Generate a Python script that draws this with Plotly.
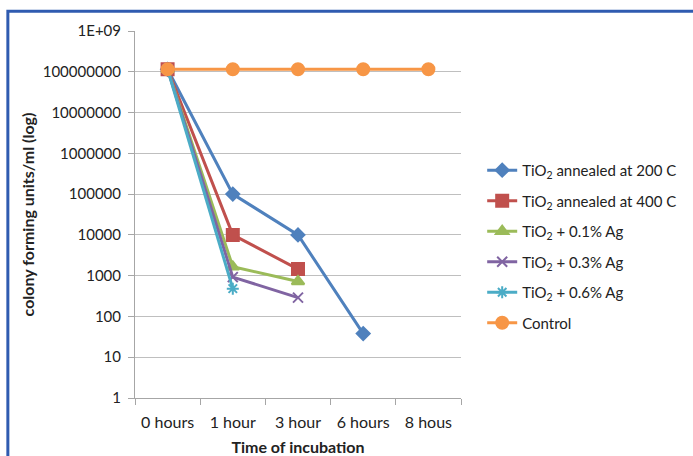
import plotly.graph_objects as go

categories = ["0 hours", "1 hour", "3 hour", "6 hours", "8 hous"]

tio2_200 = [1.15e8, 1.0e5, 1.0e4, 38]
tio2_400 = [1.15e8, 1.0e4, 1450]
tio2_01ag = [1.15e8, 1650, 720]
tio2_03ag = [1.15e8, 920, 290]
tio2_06ag = [1.15e8, 480]
control = [1.15e8, 1.15e8, 1.15e8, 1.15e8, 1.15e8]

series_names = [
    "TiO<sub>2</sub> annealed at 200 C",
    "TiO<sub>2</sub> annealed at 400 C",
    "TiO<sub>2</sub> + 0.1% Ag",
    "TiO<sub>2</sub> + 0.3% Ag",
    "TiO<sub>2</sub> + 0.6% Ag",
    "Control",
]

y_tickvals = [1, 10, 100, 1000, 10000, 100000, 1000000, 10000000, 100000000, 1000000000]
y_ticktext = ["1", "10", "100", "1000", "10000", "100000", "1000000", "10000000", "100000000", "1E+09"]

colors = ["#4F81BD", "#C0504D", "#9BBB59", "#8064A2", "#4BACC6", "#F79646"]
symbols = ["diamond", "square", "triangle-up", "x-thin-open", "asterisk-open", "circle"]
sizes = [10, 12, 11, 10, 10, 12]
data = [tio2_200, tio2_400, tio2_01ag, tio2_03ag, tio2_06ag, control]

fig = go.Figure()
for i, (name, vals) in enumerate(zip(series_names, data)):
    fig.add_trace(go.Scatter(
        x=categories[:len(vals)], y=vals, name=name, mode="lines+markers",
        line=dict(color=colors[i], width=3),
        marker=dict(symbol=symbols[i], size=sizes[i], color=colors[i],
                    line=dict(color=colors[i], width=2)),
        legendgroup=str(i),
    ))

font_family = "Lato, 'Open Sans', sans-serif"

fig.update_layout(
    width=693, height=456,
    margin=dict(l=135, r=232, t=31, b=58, autoexpand=False),
    paper_bgcolor="white", plot_bgcolor="white",
    font=dict(family=font_family, size=15, color="#222222"),
    showlegend=True,
    legend=dict(x=1.065, y=0.665, xanchor="left", yanchor="top",
                font=dict(family=font_family, size=15, color="#222222"),
                tracegroupgap=8, itemwidth=30, bgcolor="rgba(0,0,0,0)"),
    xaxis=dict(type="category", categoryorder="array", categoryarray=categories,
               range=[-0.5, 4.5], showgrid=False, showline=True, linecolor="#A6A6A6",
               linewidth=1, ticks="outside", tickson="boundaries", ticklen=6,
               tickcolor="#A6A6A6", tickfont=dict(size=16), ticklabelstandoff=10,
               automargin=False,
               title=dict(text="<b>Time of incubation</b>", font=dict(size=16), standoff=12)),
    yaxis=dict(type="log", range=[0, 9], tickvals=y_tickvals, ticktext=y_ticktext,
               showgrid=True, gridcolor="#BFBFBF", gridwidth=1, showline=True,
               linecolor="#A6A6A6", linewidth=1, ticks="outside", ticklen=6,
               tickcolor="#A6A6A6", tickfont=dict(size=15), zeroline=False,
               ticklabelstandoff=4, automargin=False,
               title=dict(text="<b>colony forming units/ml (log)</b>", font=dict(size=16), standoff=4)),
)

fig.add_shape(type="rect", xref="paper", yref="paper",
              x0=-0.39, x1=1.9, y0=-0.4, y1=1.054,
              line=dict(color="#2F5BB0", width=3), fillcolor="rgba(0,0,0,0)", layer="above")

fig.write_html("out.html", config={"displayModeBar": False},
               post_script="document.body.style.margin='0';")
